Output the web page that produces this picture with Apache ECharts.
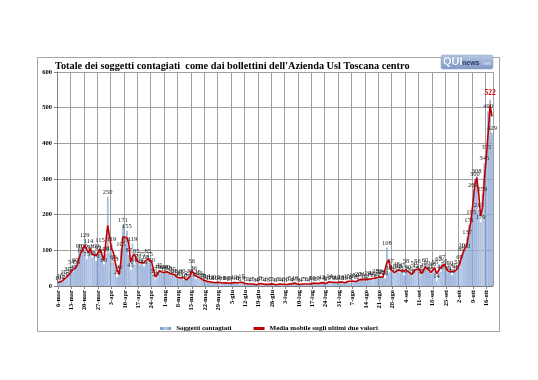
<!DOCTYPE html>
<html><head><meta charset="utf-8">
<script src="https://cdn.jsdelivr.net/npm/echarts@6/dist/echarts.min.js"></script>
<style>html,body{margin:0;padding:0;background:#fff}#c{width:538px;height:380px}</style>
</head><body><div id="c"></div>
<script>
const titleText = "Totale dei soggetti contagiati  come dai bollettini dell'Azienda Usl Toscana centro";
const barName = 'Soggetti contagiati';
const lineName = 'Media mobile sugli ultimi due valori';
const monthNames = ['mar','apr','mag','giu','lug','ago','set','ott'];
const firstDayOfFirstMonth = 6;
const marValues = [10,15,12,25,20,35,30,54,40,60,55,98,88,100,129,75,114,97,80,100,70,92,115,85,60,90];
const aprValues = [250,92,119,68,63,25,40,105,171,115,155,87,45,119,60,85,70,60,75,55,68,85,75,60,30,20,40,45,40,35];
const magValues = [40,40,38,30,35,28,22,20,25,30,18,15,22,30,56,36,20,25,22,18,15,12,14,10,12,8,10,12,9,7,10];
const giuValues = [8,10,6,9,7,12,10,8,6,15,9,5,7,4,6,5,3,4,6,8,5,4,6,3,5,7,4,3,5,6];
const lugValues = [4,6,3,5,8,4,6,10,5,3,4,7,5,6,4,8,10,6,5,9,7,12,8,6,10,14,11,9,8,12,10];
const agoValues = [13,8,10,15,12,9,18,14,11,20,17,21,15,12,24,19,22,16,28,20,30,26,25,22,108,38,57,40,35,48,42];
const setValues = [38,45,30,58,40,35,28,50,42,56,38,30,45,60,50,40,35,48,55,14,62,40,67,56,45,38,50,30,45,40];
const ottValues = [53,69,89,101,100,137,171,195,269,300,308,213,179,259,345,375,490,522,429];
const highlightValue = 522;
const yMin = 0, yMax = 600, yStep = 100;

const monthValues = [marValues, aprValues, magValues, giuValues, lugValues, agoValues, setValues, ottValues];
const categories = [];
const values = [];
monthValues.forEach((arr, m) => {
  const start = m === 0 ? firstDayOfFirstMonth : 1;
  arr.forEach((v, i) => { categories.push((start + i) + '-' + monthNames[m]); values.push(v); });
});
// moving average over the last two values (as defined by the legend)
const movingAvg = values.map((v, i) => i === 0 ? v : (values[i - 1] + v) / 2);

const serif = 'Liberation Serif';
const chart = echarts.init(document.getElementById('c'), null, {renderer: 'canvas'});
chart.setOption({
  animation: false,
  backgroundColor: '#fff',
  title: {
    text: titleText, left: 50, top: 56,
    textStyle: {fontFamily: serif, fontWeight: 'bold', fontSize: 10.3, color: '#000'}
  },
  graphic: [
    {type: 'rect', shape: {x: 37.5, y: 57.5, width: 462, height: 274}, style: {fill: 'none', stroke: '#a6a6a6', lineWidth: 1}, z: -1},
    {type: 'rect', shape: {x: 441, y: 55, width: 52, height: 14, r: 2},
     style: {fill: new echarts.graphic.LinearGradient(0, 0, 0, 1, [{offset: 0, color: '#b9c9e3'}, {offset: 1, color: '#7f98c4'}]), stroke: '#8aa0c8', lineWidth: 0.5}},
    {type: 'text', x: 443, y: 56, style: {text: 'QUI', fill: '#fff', font: 'bold 11px Arial', stroke: '#4a6aa5', lineWidth: 0.6}},
    {type: 'text', x: 462, y: 59.5, style: {text: 'news', fill: '#2a3f6e', font: 'bold 7px Arial'}},
    {type: 'text', x: 481, y: 60, style: {text: '.net', fill: '#dfe8f6', font: '6px Arial'}}
  ],
  legend: {
    top: 320, left: 'center', itemGap: 22, itemWidth: 11, itemHeight: 3,
    textStyle: {fontFamily: serif, fontWeight: 'bold', fontSize: 7, color: '#000'},
    data: [{name: barName, icon: 'rect'}, {name: lineName, icon: 'rect'}]
  },
  grid: {left: 57, right: 45, top: 72, bottom: 94, containLabel: false},
  xAxis: {
    type: 'category', data: categories, boundaryGap: true,
    axisLine: {lineStyle: {color: '#808080'}},
    axisTick: {show: true, interval: 6, length: 3, alignWithLabel: true, lineStyle: {color: '#808080'}},
    axisLabel: {interval: 6, rotate: 90, fontFamily: serif, fontWeight: 'bold', fontSize: 6.5, color: '#000', margin: 4},
    splitLine: {show: true, interval: 6, lineStyle: {color: '#a0a0a0', width: 1}}
  },
  yAxis: {
    type: 'value', min: yMin, max: yMax, interval: yStep,
    axisLine: {show: true, lineStyle: {color: '#808080'}},
    axisTick: {show: true, length: 3, lineStyle: {color: '#808080'}},
    axisLabel: {fontFamily: serif, fontWeight: 'bold', fontSize: 6.5, color: '#000', margin: 5},
    splitLine: {show: true, lineStyle: {color: '#a0a0a0', width: 1}}
  },
  series: [
    {
      name: barName, type: 'bar', barCategoryGap: '25%',
      itemStyle: {color: new echarts.graphic.LinearGradient(0, 0, 1, 0, [{offset: 0, color: '#6f8fc8'}, {offset: 0.5, color: '#b8cbea'}, {offset: 1, color: '#6f8fc8'}])},
      label: {show: true, position: 'top', distance: 1, fontFamily: serif, fontSize: 6.5, color: '#222'},
      data: values.map(v => v === highlightValue ? {value: v, label: {color: '#c00000', fontWeight: 'bold', fontSize: 7.5, distance: 3}} : v)
    },
    {
      name: lineName, type: 'line', data: movingAvg, showSymbol: false, symbol: 'none',
      itemStyle: {color: '#c00000'}, lineStyle: {color: '#c00000', width: 1.6}, z: 5
    }
  ]
});
</script></body></html>
